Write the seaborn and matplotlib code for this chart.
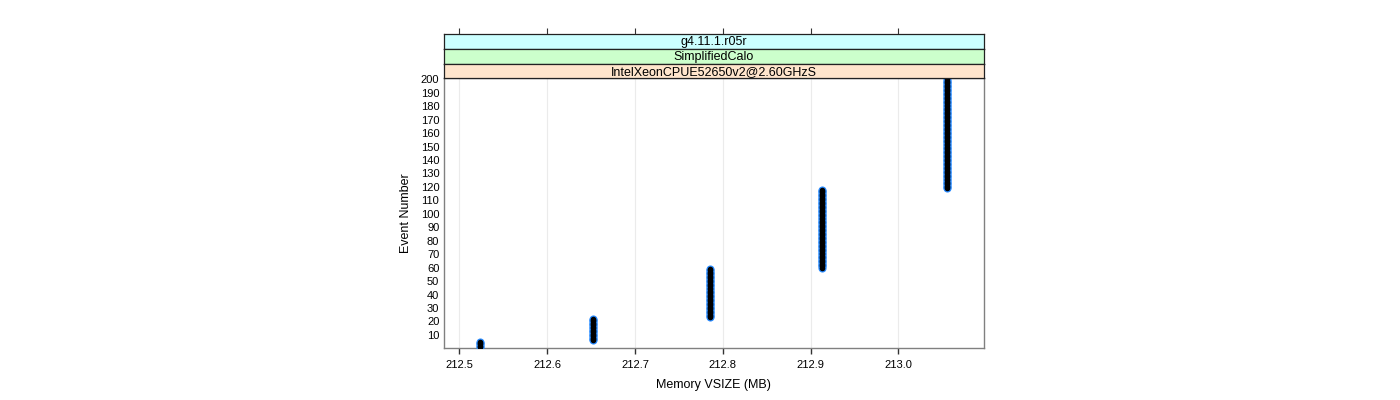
import numpy as np
import pandas as pd
import matplotlib
matplotlib.use("Agg")
import matplotlib.pyplot as plt
import seaborn as sns

# ---- data ----
vsize_levels = [212.523, 212.652, 212.785, 212.913, 213.055]   # Memory VSIZE (MB)
events_per_level = [5, 17, 37, 59, 82]                          # consecutive events at each level
strip_labels = ["g4.11.1.r05r", "SimplifiedCalo", "IntelXeonCPUE52650v2@2.60GHzS"]
strip_colors = ["#CCFFFF", "#CCFFCC", "#FFE5CC"]
x_ticks = [212.5, 212.6, 212.7, 212.8, 212.9, 213.0]
y_ticks = list(range(10, 201, 10))

vsize = np.repeat(vsize_levels, events_per_level)
event = np.arange(1, len(vsize) + 1)
df = pd.DataFrame({"vsize": vsize, "event": event})

sns.set_style("white")
plt.rcParams["font.family"] = ["Liberation Sans", "DejaVu Sans"]
plt.rcParams["text.color"] = "black"
plt.rcParams["axes.labelcolor"] = "black"
plt.rcParams["xtick.color"] = "black"
plt.rcParams["ytick.color"] = "black"

W, H = 1400, 400
fig = plt.figure(figsize=(W / 100, H / 100), dpi=100)

def fx(p):
    return p / W

def fy(p):
    return 1 - p / H

left, right = 443.5, 983.5
top, bottom = 78.3, 347.7
ax = fig.add_axes([fx(left), fy(bottom), fx(right - left), fy(top) - fy(bottom)])

# outer blue ring layer, then black core layer
sns.scatterplot(data=df, x="vsize", y="event", ax=ax, marker="o", s=34,
                color="#2A8CFF", edgecolor="#2A8CFF", linewidth=0, zorder=3,
                legend=False)
sns.scatterplot(data=df, x="vsize", y="event", ax=ax, marker="o", s=16,
                color="black", edgecolor="black", linewidth=0, zorder=4,
                legend=False)

ax.set_xlim(212.482, 213.097)
ax.set_ylim(0.5, 200.7)
ax.set_xticks(x_ticks)
ax.set_xticklabels([f"{v:.1f}" for v in x_ticks])
ax.set_yticks(y_ticks)
ax.set_yticklabels([str(v) for v in y_ticks])
for v in x_ticks:
    ax.axvline(v, color="#EBEBEB", lw=0.8, zorder=0)

ax.tick_params(axis="x", direction="out", length=4, width=1, color="#333333",
               labelsize=8, pad=5, bottom=True)
ax.tick_params(axis="y", length=0, labelsize=8, pad=3)
for s in ax.spines.values():
    s.set_color("#808080")
    s.set_linewidth(1.0)
ax.set_xlabel("Memory VSIZE (MB)", fontsize=9, labelpad=6)
ax.set_ylabel("Event Number", fontsize=9, labelpad=6)

# strips (top to bottom)
edges = [34.3, 49.0, 63.7, 78.3]
for i, (lab, col) in enumerate(zip(strip_labels, strip_colors)):
    sax = fig.add_axes([fx(left), fy(edges[i + 1]), fx(right - left),
                        fy(edges[i]) - fy(edges[i + 1])], sharex=ax)
    sax.set_facecolor(col)
    sax.set_yticks([])
    sax.tick_params(axis="x", which="both", bottom=False, labelbottom=False,
                    top=(i == 0), labeltop=False, direction="out", length=4,
                    color="#333333")
    for s in sax.spines.values():
        s.set_color("#222222")
        s.set_linewidth(0.9)
    sax.text(0.5, 0.45, lab, transform=sax.transAxes, ha="center", va="center",
             fontsize=9)

fig.savefig("out.png", dpi=100)
